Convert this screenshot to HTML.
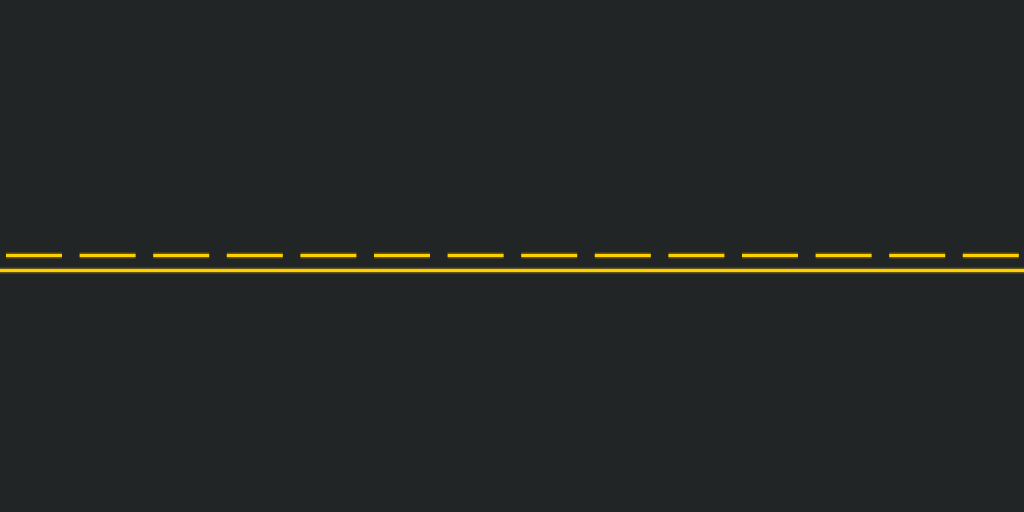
<!DOCTYPE html>
<html><head><meta charset="utf-8"><style>
html,body{margin:0;padding:0;background:#222526;width:1024px;height:512px;overflow:hidden}
</style></head><body>
<svg width="1024" height="512" viewBox="0 0 1024 512" xmlns="http://www.w3.org/2000/svg">
<rect width="1024" height="512" fill="#222526"/>
<g id="dashes"></g>
<line x1="0" y1="270.5" x2="1024" y2="270.5" stroke="#b08f00" stroke-opacity="0.45" stroke-width="6"/>
<line x1="0" y1="270.5" x2="1024" y2="270.5" stroke="#ffd000" stroke-width="3"/>
</svg>
<script>
const dashStarts = [6,79.6,153.2,226.8,300.4,374,447.6,521.2,594.8,668.4,742,815.6,889.2,962.8];
const g = document.getElementById('dashes');
dashStarts.forEach(function(x){
  const glow = document.createElementNS('http://www.w3.org/2000/svg','line');
  
  
  glow.setAttribute('x1', x); glow.setAttribute('x2', x+56);
  glow.setAttribute('y1', 255.5); glow.setAttribute('y2', 255.5);
  glow.setAttribute('stroke', '#b08f00'); glow.setAttribute('stroke-opacity', '0.45'); glow.setAttribute('stroke-width', '6');
  g.appendChild(glow);
  const l = document.createElementNS('http://www.w3.org/2000/svg','line');
  
  
  l.setAttribute('x1', x); l.setAttribute('x2', x+56);
  l.setAttribute('y1', 255.5); l.setAttribute('y2', 255.5);
  l.setAttribute('stroke', '#ffd000'); l.setAttribute('stroke-width', '3');
  g.appendChild(l);
});
</script>
</body></html>
